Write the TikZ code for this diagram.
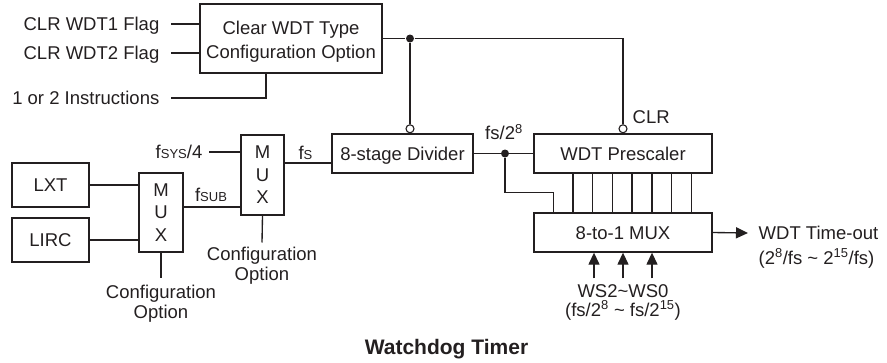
\documentclass[tikz,border=0pt]{standalone}
\usepackage{fontspec}
\setmainfont{Liberation Sans}
\usetikzlibrary{arrows.meta}
\definecolor{ink}{RGB}{35,31,32}
\newcommand{\lowcap}[1]{{\fontsize{13}{13}\selectfont #1}}

\begin{document}
\begin{tikzpicture}[x=1pt,y=-1pt,line width=1.35pt,color=ink,
    font=\fontsize{18.5}{22}\selectfont,
    box/.style={draw,inner sep=0pt,text height=13pt,text depth=0pt},
    stack/.style={draw,inner sep=0pt,align=center},
    sig/.style={inner sep=0pt,text height=13pt,text depth=0pt},
    note/.style={inner sep=0pt,align=center,font=\fontsize{18.5}{19.5}\selectfont},
    bubble/.style={circle,draw,fill=white,inner sep=0pt,minimum size=8pt,line width=1.1pt},
    dot/.style={circle,fill=ink,inner sep=0pt,minimum size=8pt},
    tip/.style={-{Triangle[length=12pt,width=11pt]}}]
  \useasboundingbox (0,0) rectangle (887,362);
  \node[stack,minimum width=182pt,minimum height=69pt,font=\fontsize{18.5}{24}\selectfont] (clear) at (291,38.5) {\rule{0pt}{20pt}Clear WDT Type\\Configuration Option};
  \node[box,minimum width=77pt,minimum height=44pt] (lxt) at (50.5,185) {LXT};
  \node[box,minimum width=77pt,minimum height=44pt] (lirc) at (50.5,240) {LIRC};
  \node[stack,minimum width=44pt,minimum height=79pt,font=\fontsize{18.5}{22.5}\selectfont] (mux1) at (161,212.5) {M\\U\\X};
  \node[stack,minimum width=43pt,minimum height=80pt,font=\fontsize{18.5}{22.5}\selectfont] (mux2) at (262.5,175) {M\\U\\X};
  \node[box,minimum width=141pt,minimum height=39pt] (div) at (402.5,153.5) {8-stage Divider};
  \node[box,minimum width=178pt,minimum height=39pt] (pre) at (623,153.5) {WDT Prescaler};
  \node[box,minimum width=178pt,minimum height=39pt] (sel) at (623,232.5) {8-to-1 MUX};

  \node[sig,anchor=east] (flag1) at (160,24) {CLR WDT1 Flag};
  \node[sig,anchor=east] (flag2) at (160,53) {CLR WDT2 Flag};
  \node[sig,anchor=east] (instr) at (160,98) {1 or 2 Instructions};
  \node[sig,anchor=east] (fsys) at (203,152) {f\lowcap{SYS}/4};
  \node[sig,anchor=south] (fsub) at (211,202) {f\lowcap{SUB}};
  \node[sig,anchor=south] (fs) at (305.5,160) {f\lowcap{S}};
  \node[sig,anchor=south] (fs8) at (504,140) {fs/2\textsuperscript{8}};
  \node[sig,anchor=west] (clrlbl) at (632,117) {CLR};
  \node[sig,anchor=west] (tout) at (758,233) {WDT Time-out};
  \node[sig,anchor=west] (trange) at (758,257.5) {(2\textsuperscript{8}/fs \textasciitilde{} 2\textsuperscript{15}/fs)};
  \node[sig] (ws) at (623,290.5) {WS2\textasciitilde WS0};
  \node[sig] (wsrange) at (623,309.5) {(fs/2\textsuperscript{8} \textasciitilde{} fs/2\textsuperscript{15})};
  \node[note,anchor=north] (cfg1) at (161,284.5) {Configuration\\Option};
  \node[note,anchor=north] (cfg2) at (262,246.5) {Configuration\\Option};
  \node[anchor=base,font=\bfseries\fontsize{21}{24}\selectfont] (title) at (446.5,354) {Watchdog Timer};

  \node[dot] (j1) at (410,38.5) {};
  \node[dot] (j2) at (505,153.5) {};
  \node[bubble,anchor=south] (bub1) at (j1 |- div.north) {};
  \node[bubble,anchor=south] (bub2) at (pre.north) {};

  \begin{scope}[-]
    \draw ([xshift=11pt]flag1.east) to (flag1 -| clear.west);
    \draw ([xshift=11pt]flag2.east) to (flag2 -| clear.west);
    \draw ([xshift=11pt]instr.east) -| ([xshift=-25pt]clear.south);
    \draw (clear.east) to (j1);
    \draw (j1) -| (bub2.north);
    \draw (j1) to (bub1.north);
    \draw (lxt.east) to (lxt -| mux1.west);
    \draw (lirc.east) to (lirc -| mux1.west);
    \draw ([yshift=5.5pt]mux1.east) coordinate (m1o) to (m1o -| mux2.west);
    \draw ([xshift=6pt]fsys.east) to (fsys -| mux2.west);
    \draw ([yshift=12pt]mux2.east) coordinate (m2o) to (m2o -| div.west);
    \draw (mux1.south) to ([yshift=7pt]cfg1.north);
    \draw (mux2.south) to ([yshift=4pt]cfg2.north);
    \draw (div.east) to (pre.west);
    \draw (j2) |- ([xshift=20pt,yshift=20pt]sel.north west) -- ([xshift=20pt]sel.north west);
    \foreach \k in {1,...,7}
      \draw ([xshift=20pt+\k*19.71pt]pre.south west) to ([xshift=20pt+\k*19.71pt]sel.north west);
    \draw[tip] (sel.east) to ([xshift=-10pt]tout.west);
    \foreach \d in {-29,0,29}
      \draw[tip] ([xshift=\d pt,yshift=5pt]ws.north) to ([xshift=\d pt]sel.south);
  \end{scope}
\end{tikzpicture}
\end{document}
